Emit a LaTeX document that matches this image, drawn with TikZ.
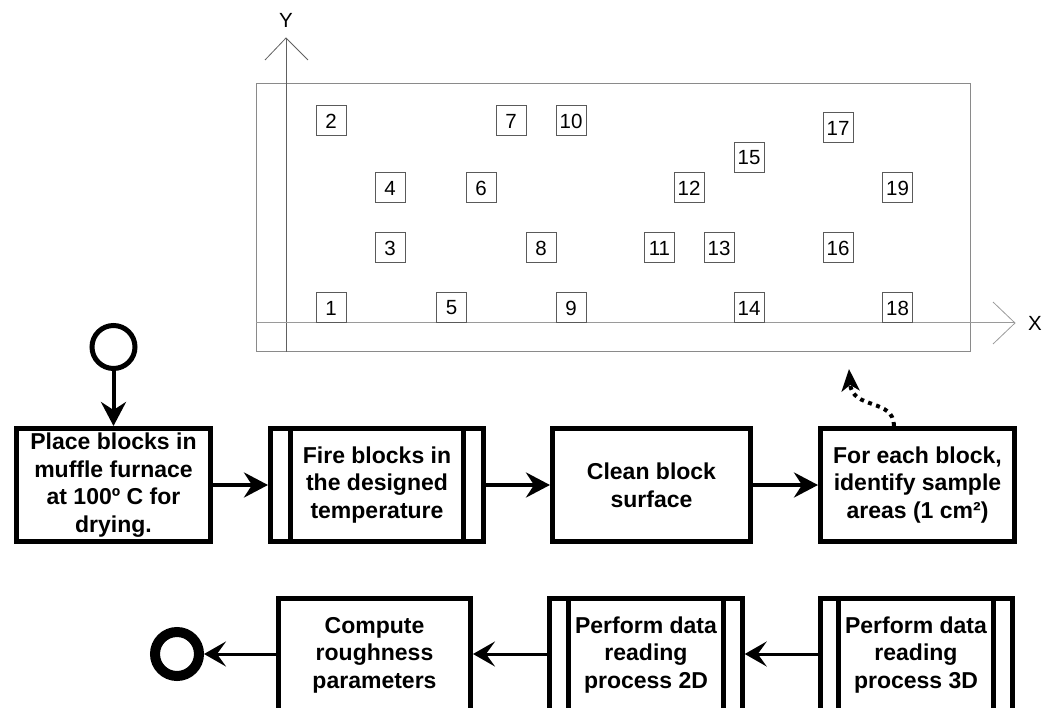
\documentclass[tikz,border=0pt]{standalone}
\usepackage{fontspec}
\setmainfont{Liberation Sans}
\usetikzlibrary{arrows.meta}
\definecolor{boxgray}{HTML}{5A5A5A}
\definecolor{rectgray}{HTML}{8A8A8A}
\definecolor{xgray}{HTML}{9A9A9A}
\definecolor{ygray}{HTML}{606060}
\begin{document}
\begin{tikzpicture}[x=1pt,y=-1pt,
  sbox/.style={draw=boxgray, line width=1pt, minimum size=30pt, inner sep=0pt, font=\fontsize{20.5}{23}\selectfont},
  axlab/.style={inner sep=0pt, font=\fontsize{20.5}{23}\selectfont},
  proc/.style={draw=black, line width=5pt, minimum height=113pt, inner sep=0pt, align=center, font=\fontsize{23}{27.6}\selectfont\bfseries},
  topflow/.style={line width=4pt, -{Stealth[length=24pt,width=25pt,inset=8pt]}},
  botflow/.style={line width=3pt, -{Stealth[length=22pt,width=25pt,inset=9pt]}},
  subline/.style={line width=5pt}
]
\useasboundingbox (0,0) rectangle (1052,708);

% ---- sample plate ----
\draw[rectgray, line width=1pt] (256,84) rectangle (970,352);
\coordinate (yo) at (286,352);
\coordinate (ytip) at (286,38);
\coordinate (xo) at (256,323);
\coordinate (xtip) at (1015,323);
\draw[ygray, line width=1pt] (yo) -- (ytip);
\draw[ygray, line width=0.8pt] ([shift={(-21,22)}]ytip) -- (ytip) -- ([shift={(22,22)}]ytip);
\draw[xgray, line width=1pt] (xo) -- (xtip);
\draw[xgray, line width=0.8pt] ([shift={(-22,-21)}]xtip) -- (xtip) -- ([shift={(-22,21)}]xtip);
\node[axlab] (ylab) at (286,20) {Y};
\node[axlab] (xlab) at (1035,323.5) {X};

\node[sbox] (s1)  at (331,308) {1};
\node[sbox] (s2)  at (331,121) {2};
\node[sbox] (s3)  at (390,248) {3};
\node[sbox] (s4)  at (390,188) {4};
\node[sbox] (s5)  at (451.5,308) {5};
\node[sbox] (s6)  at (481,188) {6};
\node[sbox] (s7)  at (511,121) {7};
\node[sbox] (s8)  at (541,248) {8};
\node[sbox] (s9)  at (571,308) {9};
\node[sbox] (s10) at (571,121) {10};
\node[sbox] (s11) at (659.5,248) {11};
\node[sbox] (s12) at (689,188) {12};
\node[sbox] (s13) at (719,248) {13};
\node[sbox] (s14) at (749,308) {14};
\node[sbox] (s15) at (749,158) {15};
\node[sbox] (s16) at (838,248) {16};
\node[sbox] (s17) at (838,128) {17};
\node[sbox] (s18) at (897.5,308) {18};
\node[sbox] (s19) at (897.5,188) {19};

% ---- flow, top row ----
\node[draw=black, line width=5pt, circle, minimum size=43pt, inner sep=0pt] (start) at (113.5,347) {};
\node[proc, minimum width=194pt] (b1) at (113.5,485) {Place blocks in\\muffle furnace\\at 100º C for\\drying.};
\node[proc, minimum width=213pt] (b2) at (377,485) {Fire blocks in\\the designed\\temperature};
\draw[subline] ([xshift=22.5pt]b2.north west) -- ([xshift=22.5pt]b2.south west);
\draw[subline] ([xshift=-22.5pt]b2.north east) -- ([xshift=-22.5pt]b2.south east);
\node[proc, minimum width=198pt] (b3) at (651.5,485) {Clean block\\surface};
\node[proc, minimum width=194pt] (b4) at (917.5,485) {For each block,\\identify sample\\areas (1 cm²)};

\draw[topflow] (start) -- (b1);
\draw[topflow] (b1) -- (b2);
\draw[topflow] (b2) -- (b3);
\draw[topflow] (b3) -- (b4);

\path (b4.north) ++(-23.5,0) coordinate (d0);
\coordinate (d1) at (849,369);
\draw[line width=4pt, dash pattern=on 4pt off 4.5pt, -{Stealth[length=22pt,width=18pt,inset=6pt]}]
  (d0) .. controls (894,398) and (852,410) .. (d1);

% ---- flow, bottom row ----
\node[draw=black, line width=10pt, circle, minimum size=44pt, inner sep=0pt] (stop) at (177,654) {};
\node[proc, minimum width=192pt] (c1) at (374.5,655) {Compute\\roughness\\parameters};
\node[proc, minimum width=192.5pt] (c2) at (646,655) {Perform data\\reading\\process 2D};
\draw[subline] ([xshift=21.5pt]c2.north west) -- ([xshift=21.5pt]c2.south west);
\draw[subline] ([xshift=-21.5pt]c2.north east) -- ([xshift=-21.5pt]c2.south east);
\node[proc, minimum width=192pt] (c3) at (916,655) {Perform data\\reading\\process 3D};
\draw[subline] ([xshift=20.5pt]c3.north west) -- ([xshift=20.5pt]c3.south west);
\draw[subline] ([xshift=-21.5pt]c3.north east) -- ([xshift=-21.5pt]c3.south east);

\draw[botflow] (c3.west |- 0,654) -- (c2.east |- 0,654);
\draw[botflow] (c2.west |- 0,654) -- (c1.east |- 0,654);
\draw[botflow] (c1.west |- 0,654) -- (stop);
\end{tikzpicture}
\end{document}
